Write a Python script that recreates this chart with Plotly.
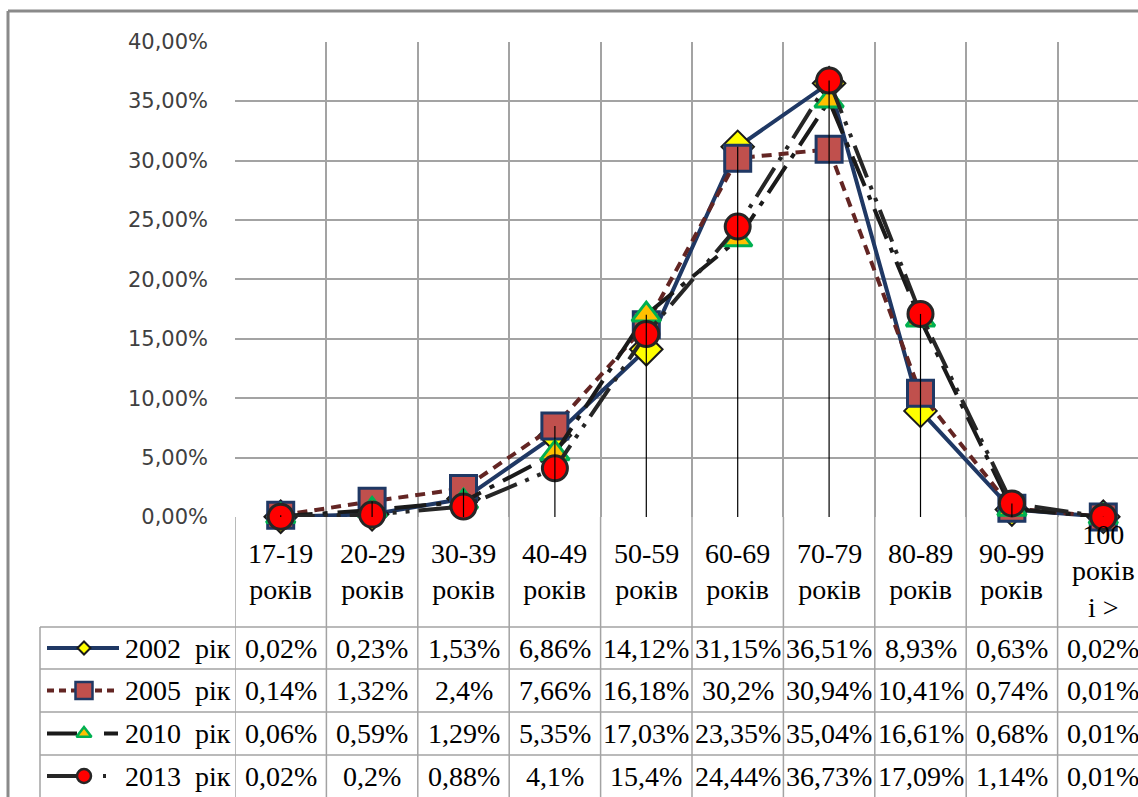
import plotly.graph_objects as go

# ---------------- data ----------------
categories = ["17-19<br>років", "20-29<br>років", "30-39<br>років", "40-49<br>років",
              "50-59<br>років", "60-69<br>років", "70-79<br>років", "80-89<br>років",
              "90-99<br>років", "100<br>років<br>і >"]
series_names = ["2002\u2002рік", "2005\u2002рік", "2010\u2002рік", "2013\u2002рік"]
v2002 = [0.02, 0.23, 1.53, 6.86, 14.12, 31.15, 36.51, 8.93, 0.63, 0.02]
v2005 = [0.14, 1.32, 2.4, 7.66, 16.18, 30.2, 30.94, 10.41, 0.74, 0.01]
v2010 = [0.06, 0.59, 1.29, 5.35, 17.03, 23.35, 35.04, 16.61, 0.68, 0.01]
v2013 = [0.02, 0.2, 0.88, 4.1, 15.4, 24.44, 36.73, 17.09, 1.14, 0.01]
y_ticks = [0, 5, 10, 15, 20, 25, 30, 35, 40]
y_tick_labels = ["0,00%", "5,00%", "10,00%", "15,00%", "20,00%", "25,00%",
                 "30,00%", "35,00%", "40,00%"]

series_values = [v2002, v2005, v2010, v2013]

# ---------------- layout geometry ----------------
W, H = 1138, 797
PLOT_L, PLOT_T, PLOT_B = 235, 41.7, 517
COL_W = 91.4
ROW_LINES = [627, 669, 712, 755]
ROW_CENTERS = [648, 690.5, 733.5, 776]


def px(xp):
    return xp / W


def py(yp):
    return 1 - yp / H


GRID = "#a3a3a3"
SERIF = "Liberation Serif"

styles = [
    dict(line=dict(color="#1F3864", width=4),
         marker=dict(symbol="diamond", size=25, color="#FFFF00",
                     line=dict(color="#1a1a1a", width=2)),
         key_dash="solid", key_size=10),
    dict(line=dict(color="#632523", width=4, dash="10px,7px"),
         marker=dict(symbol="square", size=26, color="#C0504D",
                     line=dict(color="#1F3864", width=3)),
         key_dash="7px,5px", key_size=17),
    dict(line=dict(color="#1a1a1a", width=4, dash="32px,10px,5px,10px"),
         marker=dict(symbol="triangle-up", size=25, color="#FFC000",
                     line=dict(color="#00B050", width=3)),
         key_dash="30px,27px,14px", key_size=13),
    dict(line=dict(color="#262626", width=4, dash="34px,9px,4px,9px,4px,9px"),
         marker=dict(symbol="circle", size=25, color="#FF0000",
                     line=dict(color="#262626", width=3)),
         key_dash="30px,26px,3px,30px", key_size=14),
]

fig = go.Figure()
xs = list(range(len(categories)))
for name, vals, st in zip(series_names, series_values, styles):
    fig.add_trace(go.Scatter(
        x=xs, y=vals, mode="lines+markers", name=name,
        line=st["line"], marker=st["marker"], cliponaxis=False,
        showlegend=False, hoverinfo="skip"))

# legend keys in table (overlay pixel axes)
for name, st, yc in zip(series_names, styles, ROW_CENTERS):
    ln = dict(st["line"])
    ln["dash"] = st["key_dash"]
    fig.add_trace(go.Scatter(x=[47, 119], y=[yc, yc], mode="lines", line=ln,
                             xaxis="x2", yaxis="y2", showlegend=False,
                             hoverinfo="skip", cliponaxis=False))
    mk = dict(st["marker"])
    mk["size"] = st["key_size"]
    mk["line"] = dict(color=st["marker"]["line"]["color"],
                      width=min(2.5, st["marker"]["line"]["width"]))
    fig.add_trace(go.Scatter(x=[84], y=[yc], mode="markers", marker=mk,
                             xaxis="x2", yaxis="y2", showlegend=False,
                             hoverinfo="skip", cliponaxis=False))

shapes = []
# drop lines
for i in xs:
    top = max(s[i] for s in series_values)
    shapes.append(dict(type="line", xref="x", yref="y", x0=i, x1=i, y0=0, y1=top,
                       line=dict(color="black", width=1.2)))
# vertical lines through label area and table
for i in range(len(categories)):
    b = i - 0.5
    shapes.append(dict(type="line", xref="x", yref="paper", x0=b, x1=b,
                       y0=0, y1=py(PLOT_B), line=dict(color=GRID, width=1.5),
                       layer="below"))
shapes.append(dict(type="line", xref="paper", yref="paper", x0=px(40), x1=px(40),
                   y0=0, y1=py(ROW_LINES[0]), line=dict(color=GRID, width=1.5)))
for yl in ROW_LINES:
    shapes.append(dict(type="line", xref="paper", yref="paper", x0=px(40), x1=1,
                       y0=py(yl), y1=py(yl), line=dict(color=GRID, width=1.5)))
# outer chart border
shapes.append(dict(type="line", xref="paper", yref="paper", x0=px(8), x1=1,
                   y0=py(11), y1=py(11), line=dict(color="#8a8a8a", width=3)))
shapes.append(dict(type="line", xref="paper", yref="paper", x0=px(8), x1=px(8),
                   y0=0, y1=py(11), line=dict(color="#8a8a8a", width=3)))

annotations = []
for i, c in enumerate(categories):
    annotations.append(dict(x=i, y=py(571), xref="x", yref="paper", text=c,
                            showarrow=False, xanchor="center", yanchor="middle",
                            font=dict(family=SERIF, size=28, color="black")))
for name, vals, yc in zip(series_names, series_values, ROW_CENTERS):
    annotations.append(dict(x=px(123), y=py(yc), xref="paper", yref="paper",
                            text=name, showarrow=False, xanchor="left",
                            yanchor="middle",
                            font=dict(family=SERIF, size=28, color="black")))
    for i, v in enumerate(vals):
        txt = f"{v:g}".replace(".", ",") + "%"
        annotations.append(dict(x=i, y=py(yc), xref="x", yref="paper", text=txt,
                                showarrow=False, xanchor="center",
                                yanchor="middle",
                                font=dict(family=SERIF, size=28, color="black")))

x_right = -0.5 + (W - PLOT_L) / COL_W
fig.update_layout(
    width=W, height=H, autosize=False,
    margin=dict(l=0, r=0, t=0, b=0, pad=0, autoexpand=False),
    paper_bgcolor="white", plot_bgcolor="rgba(0,0,0,0)",
    showlegend=False,
    xaxis=dict(domain=[px(PLOT_L), 1], range=[-0.5, x_right],
               tickvals=[i - 0.5 for i in range(len(categories))],
               showticklabels=False, ticks="", showgrid=True, automargin=False,
               gridcolor=GRID, gridwidth=1.5, zeroline=False, showline=False),
    yaxis=dict(domain=[py(PLOT_B), py(PLOT_T)], range=[0, 40],
               tickvals=y_ticks, ticktext=y_tick_labels, ticks="",
               showgrid=True, gridcolor=GRID, gridwidth=1.5, zeroline=False,
               showline=False, ticklabelstandoff=26, automargin=False,
               tickfont=dict(family="DejaVu Sans", size=21, color="#404040")),
    xaxis2=dict(domain=[0, 1], range=[0, W], visible=False, anchor="y2",
                automargin=False),
    yaxis2=dict(domain=[0, 1], range=[H, 0], visible=False, anchor="x2",
                automargin=False),
    shapes=shapes, annotations=annotations,
)

fig.write_html("out.html", config={"displayModeBar": False},
               post_script="document.body.style.margin='0';")
